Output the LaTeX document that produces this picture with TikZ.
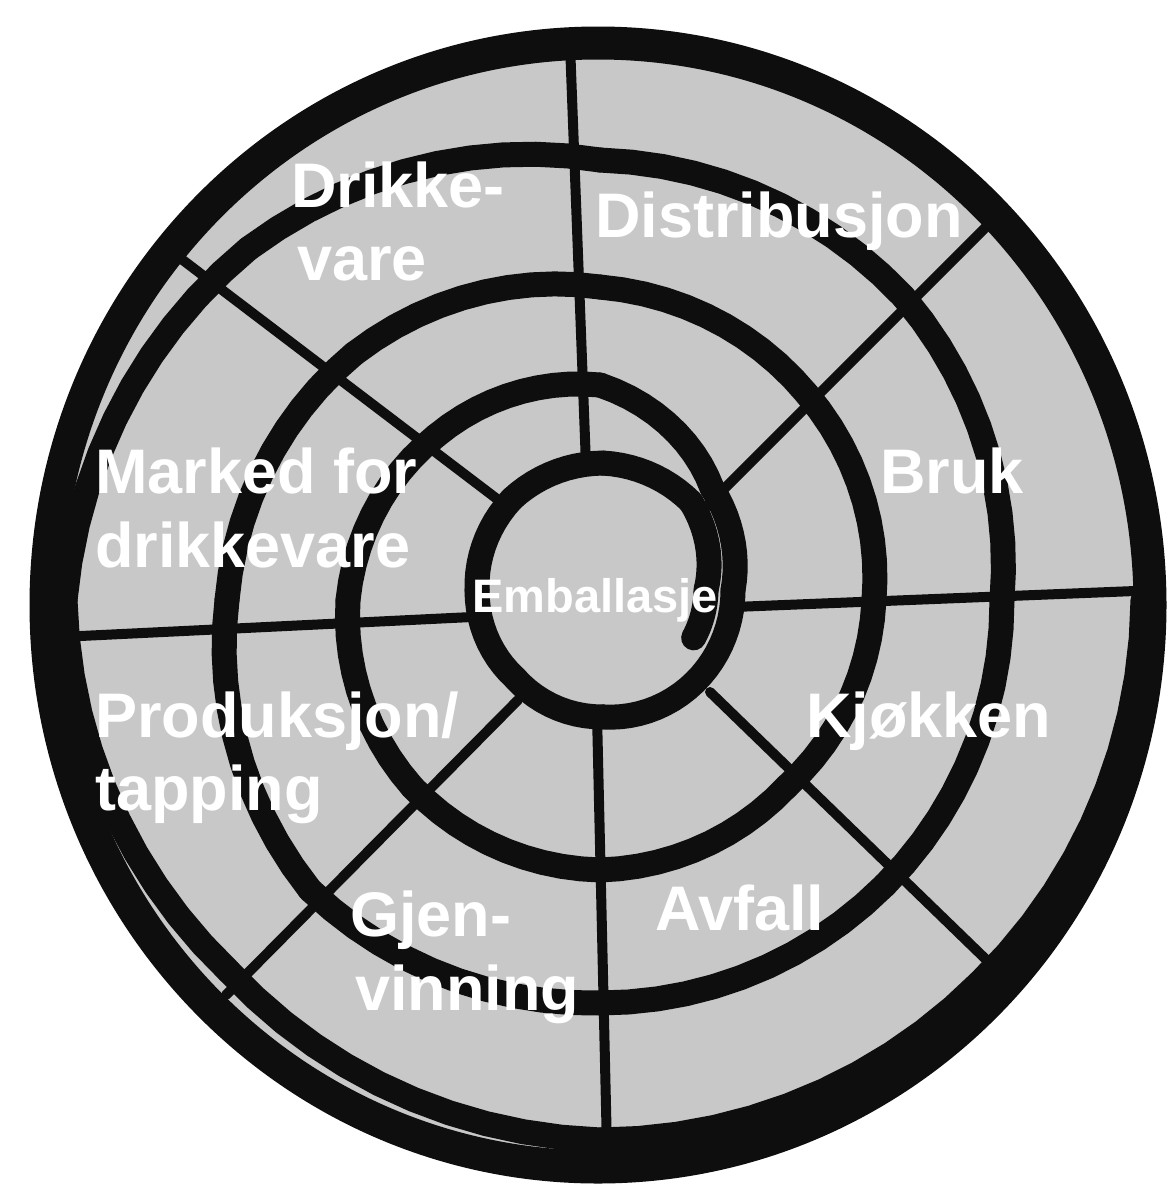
\documentclass[tikz,border=0pt]{standalone}
\usepackage{fontspec}
\setmainfont{Liberation Sans}
\definecolor{fillgray}{RGB}{200,200,200}
\definecolor{ink}{RGB}{14,14,14}
\begin{document}
\begin{tikzpicture}[x=1pt,y=-1pt,
  ringline/.style={draw=ink, line width=25pt, line cap=round, line join=round},
  outerring/.style={draw=ink, line width=33pt},
  spoke/.style={draw=ink, line width=10pt, line cap=round},
  lab/.style={text=white, font=\bfseries\fontsize{63}{73}\selectfont, inner sep=0pt, anchor=base west},
  smalllab/.style={text=white, font=\bfseries\fontsize{47}{54}\selectfont, inner sep=0pt, anchor=base west}]
\useasboundingbox (0,0) rectangle (1168,1192);
\fill[white] (0,0) rectangle (1168,1192);
\fill[fillgray] (598,605) ellipse [x radius=552, y radius=562];

% spiral round (600,600): angle/radius knots, radius interpolated between them
\foreach \a/\r [remember=\a as \pa (initially -22), remember=\r as \pr (initially 101)] in
 {5.4/106.5, 47.1/133.7, 88.7/137, 131.1/134, 175.4/123.4, 222.5/115.4,
  271.5/117, 319.2/125.5, 364.3/133.4, 405/158.4, 450/215, 495/232,
  540/252, 585/265, 630/270, 675/264, 720/274, 765/292, 810/313, 855/348,
  900/373, 945/410, 990/403, 1035/403, 1080/402, 1125/429, 1170/440,
  1215/497, 1260/535, 1305/525, 1350/540, 1395/539, 1440/543}
{ \draw[ringline] plot[domain=0:1, samples=12, variable=\t]
    ({600+(\pr+(\r-\pr)*\t)*cos(\pa+(\a-\pa)*\t)},
     {600-(\pr+(\r-\pr)*\t)*sin(\pa+(\a-\pa)*\t)}); }

% outer ring
\draw[outerring] (598,605) ellipse [x radius=552, y radius=562];

% spoke end points
\coordinate (i1) at (586,465); \coordinate (o1) at (570,44);
\coordinate (i2) at (505,505); \coordinate (o2) at (163,245);
\coordinate (i3) at (472,617); \coordinate (o3) at (60,637);
\coordinate (i4) at (518,700); \coordinate (o4) at (226,995);
\coordinate (i5) at (597,714); \coordinate (o5) at (607,1150);
\coordinate (i6) at (710,692); \coordinate (o6) at (1000,973);
\coordinate (i7) at (734,607); \coordinate (o7) at (1135,591);
\coordinate (i8) at (700,513); \coordinate (o8) at (1000,213);
\foreach \k in {1,...,8} { \draw[spoke] (i\k) -- (o\k); }

% labels
\node[lab] (drikke1) at (291,207) {Drikke-};
\node[lab] (drikke2) at (297,280) {vare};
\node[lab] (distr) at (595,237) {Distribusjon};
\node[lab] (marked1) at (95,493) {Marked for};
\node[lab] (marked2) at (95,567) {drikkevare};
\node[lab] (bruk) at (880,493) {Bruk};
\node[smalllab] (emb) at (472,612) {Emballasje};
\node[lab] (prod1) at (95,737) {Produksjon/};
\node[lab] (prod2) at (95,810) {tapping};
\node[lab] (kjokken) at (806,737) {Kjøkken};
\node[lab] (gjen1) at (350,936) {Gjen-};
\node[lab] (gjen2) at (355,1010) {vinning};
\node[lab] (avfall) at (655,930) {Avfall};
\end{tikzpicture}
\end{document}
